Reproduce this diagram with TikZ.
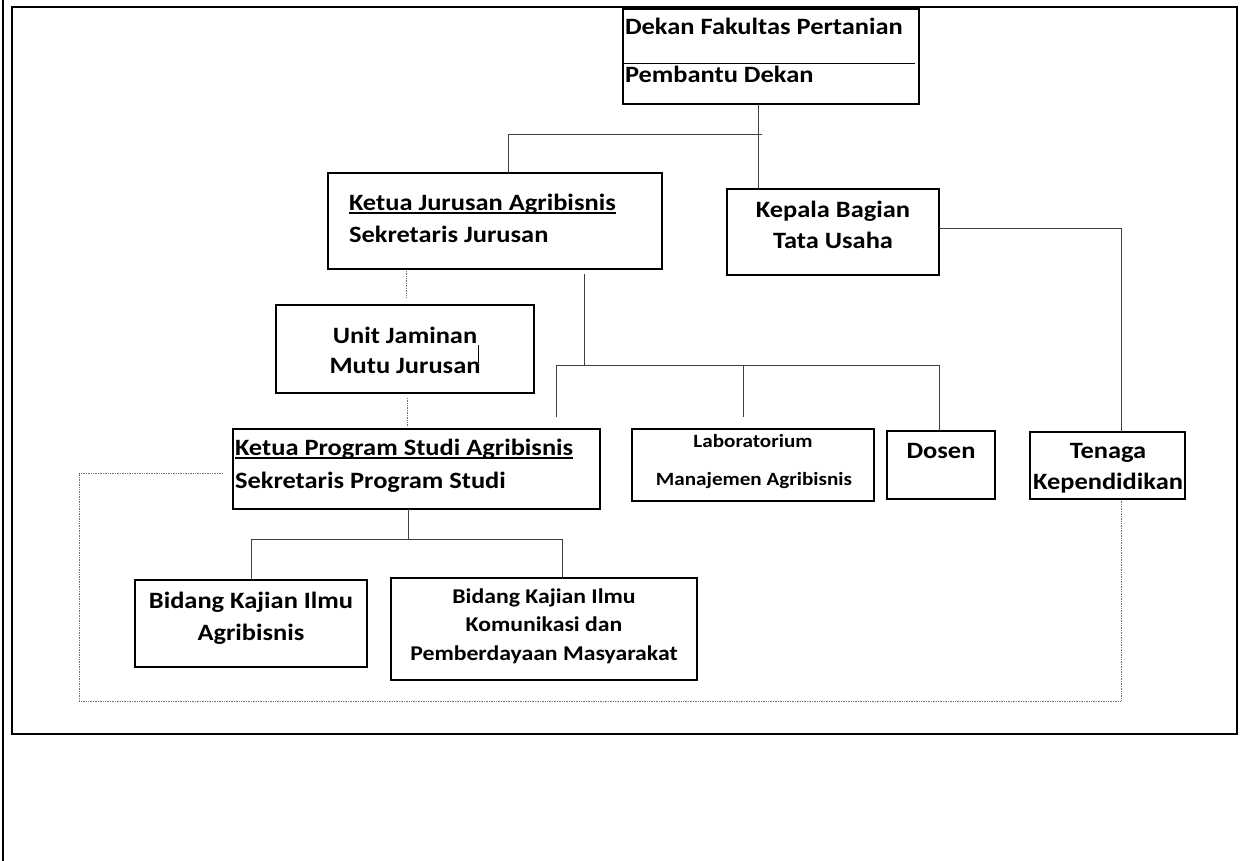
\documentclass[tikz,border=0pt]{standalone}
\usepackage{fontspec}
\setmainfont{Carlito}[FakeStretch=1.13]
\begin{document}
\begin{tikzpicture}[x=1pt,y=-1pt,
  box/.style={draw=black,line width=1.6pt,inner sep=0pt,outer sep=0pt},
  txt/.style={inner sep=0pt,outer sep=0pt,text=black,font=\bfseries\fontsize{23.4}{28}\selectfont},
  txtsm/.style={inner sep=0pt,outer sep=0pt,text=black,font=\bfseries\fontsize{18.7}{22}\selectfont},
  txtmd/.style={inner sep=0pt,outer sep=0pt,text=black,font=\bfseries\fontsize{21}{25}\selectfont},
  uline/.style={draw=black,line width=1.6pt},
  conn/.style={draw=black!75,line width=0.9pt},
  dots/.style={draw=black!55,line width=1pt,dash pattern=on 1pt off 0.7pt}]
\useasboundingbox (0,0) rectangle (1241,861);
\fill[white] (0,0) rectangle (1241,861);
% outer frame
\draw[line width=2pt] (3,0) -- (3,861);
\draw[line width=2pt] (12,7) rectangle (1237,734);
% boxes
\node[box,minimum width=296pt,minimum height=95pt] (dekan) at (771,56.5) {};
\node[box,minimum width=212pt,minimum height=86pt] (kepala) at (833,232) {};
\node[box,minimum width=334pt,minimum height=96pt] (jurusan) at (495,221) {};
\node[box,minimum width=155pt,minimum height=67pt] (tenaga) at (1107.5,465.5) {};
\node[box,minimum width=258pt,minimum height=88pt] (unit) at (405,349) {};
\node[box,minimum width=367pt,minimum height=80pt] (program) at (416.5,469) {};
\node[box,minimum width=242pt,minimum height=72pt] (lab) at (753,465) {};
\node[box,minimum width=108pt,minimum height=68pt] (dosen) at (941,465) {};
\node[box,minimum width=232pt,minimum height=87pt] (bid1) at (251,623.5) {};
\node[box,minimum width=306pt,minimum height=102pt] (bid2) at (544,629) {};
% dekan divider
\draw[line width=0.9pt] ([yshift=-6.5pt]dekan.west) -- ([xshift=-4pt,yshift=-6.5pt]dekan.east);
% texts
\node[txt,anchor=base west] (t1) at (625,35) {Dekan Fakultas Pertanian};
\node[txt,anchor=base west] (t2) at (625,83) {Pembantu Dekan};
\node[txt,anchor=base] (t3) at (833,217) {Kepala Bagian};
\node[txt,anchor=base] (t4) at (833,248) {Tata Usaha};
\node[txt,anchor=base west] (t5) at (349,210) {Ketua Jurusan Agribisnis};
\node[txt,anchor=base west] (t6) at (349,242) {Sekretaris Jurusan};
\node[txt,anchor=base] (t7) at (405,343) {Unit Jaminan};
\node[txt,anchor=base] (t8) at (405,373) {Mutu Jurusan};
\node[txt,anchor=base west] (t9) at (235,455) {Ketua Program Studi Agribisnis};
\node[txt,anchor=base west] (t10) at (235,488) {Sekretaris Program Studi};
\node[txtsm,anchor=base] (t11) at (753,447) {Laboratorium};
\node[txtsm,anchor=base] (t12) at (754,485) {Manajemen Agribisnis};
\node[txt,anchor=base] (t13) at (941,458) {Dosen};
\node[txt,anchor=base] (t14) at (1108,458) {Tenaga};
\node[txt,anchor=base] (t15) at (1108,489) {Kependidikan};
\node[txt,anchor=base] (t16) at (251,608) {Bidang Kajian Ilmu};
\node[txt,anchor=base] (t17) at (251,640) {Agribisnis};
\node[txtmd,anchor=base] (t18) at (544,603) {Bidang Kajian Ilmu};
\node[txtmd,anchor=base] (t19) at (544,631) {Komunikasi dan};
\node[txtmd,anchor=base] (t20) at (544,660) {Pemberdayaan Masyarakat};
% underlines
\draw[uline] ([yshift=-3pt]t5.base west) -- ([yshift=-3pt]t5.base east);
\draw[uline] ([yshift=-3pt]t9.base west) -- ([yshift=-3pt]t9.base east);
% stray mark in unit box
\draw[line width=0.8pt] (478,345) -- (478,363);
% connectors
\coordinate (j1) at (508,134);
\coordinate (j2) at (762,134);
\draw[conn] (j2) -- (j1) -- (j1 |- jurusan.north);
\draw[conn] ([xshift=-13pt]dekan.south) -- ([xshift=-75pt]kepala.north);
\coordinate (k1) at (1121,228);
\draw[conn] ([yshift=4pt]kepala.east) -- (k1) -- (k1 |- tenaga.north);
\coordinate (h1) at (584,365);
\coordinate (h0) at (556,365);
\coordinate (hm) at (743,365);
\coordinate (h2) at (939,365);
\coordinate (e0) at (556,417);
\coordinate (em) at (743,417);
\draw[conn] ([xshift=89pt,yshift=-5pt]jurusan.south) -- (h1);
\draw[conn] (e0) -- (h0) -- (h2) -- (h2 |- dosen.north);
\draw[conn] (hm) -- (em);
\coordinate (b1) at (408,539);
\coordinate (b0) at (251,539);
\coordinate (b2) at (562,539);
\draw[conn] ([xshift=-8.5pt]program.south) -- (b1);
\draw[conn] (bid1.north) -- (b0) -- (b2) -- (b2 |- bid2.north);
% dotted connectors
\draw[dots] ([xshift=-89pt,yshift=-2pt]jurusan.south) -- ([xshift=1pt,yshift=7pt]unit.north);
\draw[dots] ([xshift=2pt,yshift=-5pt]unit.south) -- ([xshift=-9.5pt,yshift=3pt]program.north);
\coordinate (d1) at (79,473);
\coordinate (d2) at (79,701);
\coordinate (d3) at (1121,701);
\draw[dots] ([xshift=-10pt,yshift=-4pt]program.west) -- (d1) -- (d2) -- (d3) -- ([xshift=13.5pt,yshift=-1pt]tenaga.south);
\end{tikzpicture}
\end{document}
